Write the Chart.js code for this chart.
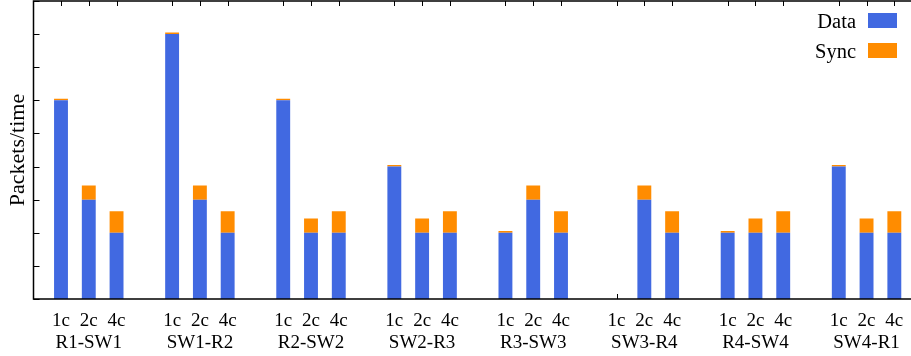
<!DOCTYPE html>
<html>
<head>
<meta charset="utf-8">
<script src="https://cdn.jsdelivr.net/npm/chart.js@4"></script>
<style>
  html, body { margin: 0; padding: 0; background: #fff; }
  #wrap { width: 911px; height: 356px; }
</style>
</head>
<body>
<div id="wrap"><canvas id="chart" width="911" height="356"></canvas></div>
<script>
// links, and the per-core-count runs within each link
const links = ['R1-SW1', 'SW1-R2', 'R2-SW2', 'SW2-R3', 'R3-SW3', 'SW3-R4', 'R4-SW4', 'SW4-R1'];
const cores = ['1c', '2c', '4c'];

// packets/time, three values (1c, 2c, 4c) per link
const dataPackets = [6, 3, 2,  8, 3, 2,  6, 2, 2,  4, 2, 2,  2, 3, 2,  0, 3, 2,  2, 2, 2,  4, 2, 2];
const syncPackets = [0.05, 0.43, 0.65,  0.05, 0.43, 0.65,  0.05, 0.43, 0.65,  0.05, 0.43, 0.65,
                     0.05, 0.43, 0.65,  0, 0.43, 0.65,  0.05, 0.43, 0.65,  0.05, 0.43, 0.65];

const FONT = '"Liberation Serif", "DejaVu Serif", serif';

// each link takes four slots: three bars and a gap
const slotOf = i => Math.floor(i / 3) * 4 + (i % 3);
const slots = dataPackets.map((_, i) => slotOf(i));

const toPoints = vals => vals.map((v, i) => ({ x: slots[i], y: v }));

// inward tick marks (gnuplot style) under the bars, frame on top
const framePlugin = {
  id: 'frame',
  beforeDatasetsDraw(chart) {
    const { ctx, chartArea: a, scales: { x, y } } = chart;
    ctx.save();
    ctx.strokeStyle = '#000';
    ctx.lineWidth = 1;
    ctx.beginPath();
    y.ticks.forEach(t => {
      const py = Math.round(y.getPixelForValue(t.value)) + 0.5;
      ctx.moveTo(a.left, py);
      ctx.lineTo(a.left + 6, py);
    });
    x.ticks.forEach(t => {
      const px = Math.round(x.getPixelForValue(t.value)) + 0.5;
      ctx.moveTo(px, a.bottom);
      ctx.lineTo(px, a.bottom - 5);
      ctx.moveTo(px, a.top);
      ctx.lineTo(px, a.top + 5);
    });
    ctx.stroke();
    ctx.restore();
  },
  afterDatasetsDraw(chart) {
    const { ctx, chartArea: a } = chart;
    ctx.save();
    ctx.strokeStyle = '#000';
    ctx.lineWidth = 1.5;
    ctx.beginPath();
    ctx.moveTo(a.right + 2, a.top);
    ctx.lineTo(a.left, a.top);
    ctx.lineTo(a.left, a.bottom);
    ctx.lineTo(a.right + 2, a.bottom);
    ctx.stroke();
    ctx.restore();
  }
};

// key in the top right corner: label, then colour box
const keyPlugin = {
  id: 'key',
  afterDraw(chart) {
    const { ctx, chartArea: a } = chart;
    ctx.save();
    ctx.font = '20.5px ' + FONT;
    ctx.textAlign = 'right';
    ctx.textBaseline = 'alphabetic';
    chart.data.datasets.forEach((ds, i) => {
      const top = a.top + 12 + i * 30;
      ctx.fillStyle = '#000';
      ctx.fillText(ds.label, a.right - 55, top + 14.5);
      ctx.fillStyle = ds.backgroundColor;
      ctx.fillRect(a.right - 43, top, 29, 15);
    });
    ctx.restore();
  }
};

new Chart(document.getElementById('chart'), {
  type: 'bar',
  data: {
    datasets: [
      { label: 'Data', data: toPoints(dataPackets), backgroundColor: '#4169E1' },
      { label: 'Sync', data: toPoints(syncPackets), backgroundColor: '#FF8C00' }
    ]
  },
  options: {
    responsive: false,
    animation: false,
    layout: { padding: { top: 1, left: 0, right: 0, bottom: 0 } },
    datasets: { bar: { barPercentage: 0.5, categoryPercentage: 1, borderWidth: 0 } },
    plugins: { legend: { display: false }, tooltip: { enabled: false } },
    scales: {
      x: {
        type: 'linear',
        offset: false,
        min: -0.99,
        max: 30.6,
        stacked: true,
        grid: { display: false, drawTicks: false, offset: false },
        border: { display: false },
        afterBuildTicks: s => { s.ticks = slots.map(v => ({ value: v })); },
        afterFit: s => {
          s.height = 57;
          s.paddingLeft = 0;
          s.paddingRight = 0;
        },
        ticks: {
          autoSkip: false,
          maxRotation: 0,
          padding: 10.5,
          color: '#000',
          font: { family: FONT, size: 19, lineHeight: 1.18 },
          callback: (v, i) => (i % 3 === 1 ? [cores[1], links[Math.floor(i / 3)]] : cores[i % 3])
        }
      },
      y: {
        min: 0,
        max: 9,
        stacked: true,
        grid: { display: false, drawTicks: false },
        border: { display: false },
        ticks: { display: false, stepSize: 1 },
        title: {
          display: true,
          text: 'Packets/time',
          color: '#000',
          font: { family: FONT, size: 22 },
          padding: { top: 5, bottom: 0 }
        },
        afterFit: s => { s.width = 33.5; }
      }
    }
  },
  plugins: [framePlugin, keyPlugin]
});
</script>
</body>
</html>
